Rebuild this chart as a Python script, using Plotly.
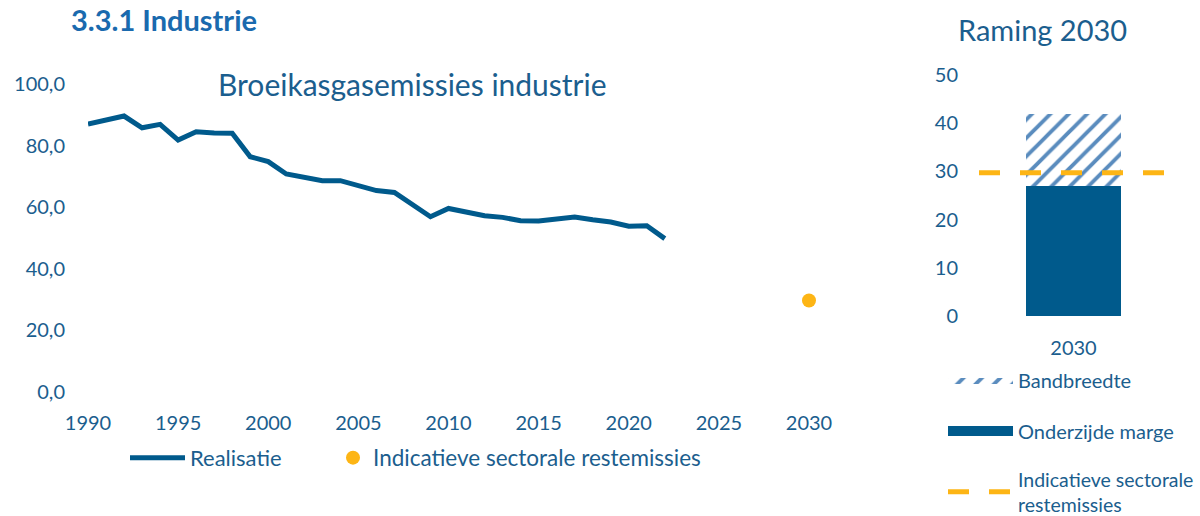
import plotly.graph_objects as go

# ---- data ----
years = list(range(1990, 2023))
realisatie = [87.0, 88.3, 89.6, 85.8, 86.9, 81.8, 84.5, 84.1, 84.0, 76.4,
              74.8, 70.8, 69.7, 68.6, 68.6, 67.0, 65.4, 64.8, 60.7, 56.9,
              59.6, 58.5, 57.2, 56.7, 55.6, 55.5, 56.2, 56.8, 55.9, 55.2,
              53.8, 54.0, 49.8]
target_years = [2030]
target_values = [29.7]

raming_cat = ["2030"]
onderzijde = [27.0]
bandbreedte = [15.0]
indicatief_2030 = 29.7

left_xticks = [1990, 1995, 2000, 2005, 2010, 2015, 2020, 2025, 2030]
left_yticks = [0, 20, 40, 60, 80, 100]
left_yticktext = ["0,0", "20,0", "40,0", "60,0", "80,0", "100,0"]
right_yticks = [0, 10, 20, 30, 40, 50]

# ---- style ----
W, H = 1200, 516
DARK = "#005A8C"
HATCH = "#5A8CBE"
ORANGE = "#FDB515"
TXT = "#1B5E8E"
TITLE = "#1A6AAE"
FONT = "Lato"
HATCH_PATTERN = dict(shape="/", fgcolor=HATCH, bgcolor="white",
                     size=13, solidity=0.3, fillmode="replace")

def px(x):
    return x / W

def py(y):
    return 1 - y / H

fig = go.Figure()

fig.add_trace(go.Scatter(
    x=years, y=realisatie, mode="lines", name="Realisatie",
    line=dict(color=DARK, width=5), xaxis="x", yaxis="y", legend="legend",
    showlegend=True,
))
fig.add_trace(go.Scatter(
    x=target_years, y=target_values, mode="markers",
    name="Indicatieve sectorale restemissies",
    marker=dict(color=ORANGE, size=14), xaxis="x", yaxis="y",
    legend="legend2", cliponaxis=False, showlegend=True,
))

# bars (right panel)
fig.add_trace(go.Bar(
    x=raming_cat, y=onderzijde, name="Onderzijde marge",
    marker=dict(color=DARK, line=dict(width=0)), width=0.5,
    xaxis="x2", yaxis="y2", showlegend=False,
))
fig.add_trace(go.Bar(
    x=raming_cat, y=bandbreedte, name="Bandbreedte",
    marker=dict(color="white", line=dict(width=0), pattern=HATCH_PATTERN),
    width=0.5, xaxis="x2", yaxis="y2", showlegend=False,
))

# legend keys for the bars (wide swatches like the reference)
fig.add_trace(go.Scatter(
    x=[None], y=[None], mode="lines", name="Bandbreedte",
    fill="toself", fillcolor="white", fillpattern=HATCH_PATTERN,
    line=dict(width=0, color=HATCH), xaxis="x2", yaxis="y2",
    legend="legend3", showlegend=True, hoverinfo="skip",
))
fig.add_trace(go.Scatter(
    x=[None], y=[None], mode="lines", name="Onderzijde marge",
    line=dict(width=12, color=DARK), xaxis="x2", yaxis="y2",
    legend="legend4", showlegend=True, hoverinfo="skip",
))

fig.add_shape(
    type="line", xref="x2 domain", yref="y2", x0=0, x1=1,
    y0=indicatief_2030, y1=indicatief_2030,
    line=dict(color=ORANGE, width=5, dash="21px,20px"),
    showlegend=True, legend="legend5",
    name="Indicatieve sectorale<br>restemissies",
)

axis_font = dict(family=FONT, size=20, color=TXT)
no_bg = "rgba(0,0,0,0)"

fig.update_layout(
    width=W, height=H,
    margin=dict(l=0, r=0, t=0, b=0, autoexpand=False),
    paper_bgcolor="white", plot_bgcolor="white",
    barmode="stack", showlegend=True,
    font=dict(family=FONT, size=19, color=TXT),
    xaxis=dict(domain=[px(88), px(809)], range=[1990, 2030],
               tickvals=left_xticks, showgrid=False, zeroline=False,
               showline=False, tickfont=axis_font, ticklabelstandoff=17,
               anchor="y", automargin=False),
    yaxis=dict(domain=[py(392), py(84)], range=[0, 100],
               tickvals=left_yticks, ticktext=left_yticktext,
               showgrid=False, zeroline=False, showline=False,
               tickfont=axis_font, ticklabelstandoff=22, anchor="x",
               automargin=False),
    xaxis2=dict(domain=[px(979), px(1168)], range=[-0.5, 0.5],
                type="category", showgrid=False, zeroline=False,
                showline=False, tickfont=axis_font, ticklabelstandoff=18,
                anchor="y2", automargin=False),
    yaxis2=dict(domain=[py(316), py(75)], range=[0, 50],
                tickvals=right_yticks, showgrid=False, zeroline=False,
                showline=False, tickfont=axis_font, ticklabelstandoff=20,
                anchor="x2", automargin=False),
    legend=dict(orientation="h", x=px(125), y=py(458), xanchor="left",
                yanchor="middle", font=dict(family=FONT, size=22, color=TXT),
                bgcolor=no_bg, itemwidth=55),
    legend2=dict(orientation="h", x=px(333), y=py(458), xanchor="left",
                 yanchor="middle", font=dict(family=FONT, size=22.5, color=TXT),
                 bgcolor=no_bg),
    legend3=dict(x=px(943), y=py(380), xanchor="left", yanchor="middle",
                 font=dict(family=FONT, size=20, color=TXT),
                 bgcolor=no_bg, itemwidth=65),
    legend4=dict(x=px(943), y=py(431), xanchor="left", yanchor="middle",
                 font=dict(family=FONT, size=20, color=TXT),
                 bgcolor=no_bg, itemwidth=65),
    legend5=dict(x=px(943), y=py(492), xanchor="left", yanchor="middle",
                 font=dict(family=FONT, size=19.5, color=TXT),
                 bgcolor=no_bg, itemwidth=65),
    annotations=[
        dict(text="<b>3.3.1 Industrie</b>", x=px(69), y=1.0,
             xref="paper", yref="paper", xanchor="left", yanchor="top",
             showarrow=False, font=dict(family=FONT, size=29, color=TITLE)),
        dict(text="Broeikasgasemissies industrie", x=px(412), y=py(84),
             xref="paper", yref="paper", xanchor="center", yanchor="middle",
             showarrow=False, font=dict(family=FONT, size=30, color=TXT)),
        dict(text="Raming 2030", x=px(1042), y=py(30),
             xref="paper", yref="paper", xanchor="center", yanchor="middle",
             showarrow=False, font=dict(family=FONT, size=29, color=TXT)),
    ],
)

fig.write_html("out.html", config={"displayModeBar": False},
               post_script="document.body.style.margin='0';")
